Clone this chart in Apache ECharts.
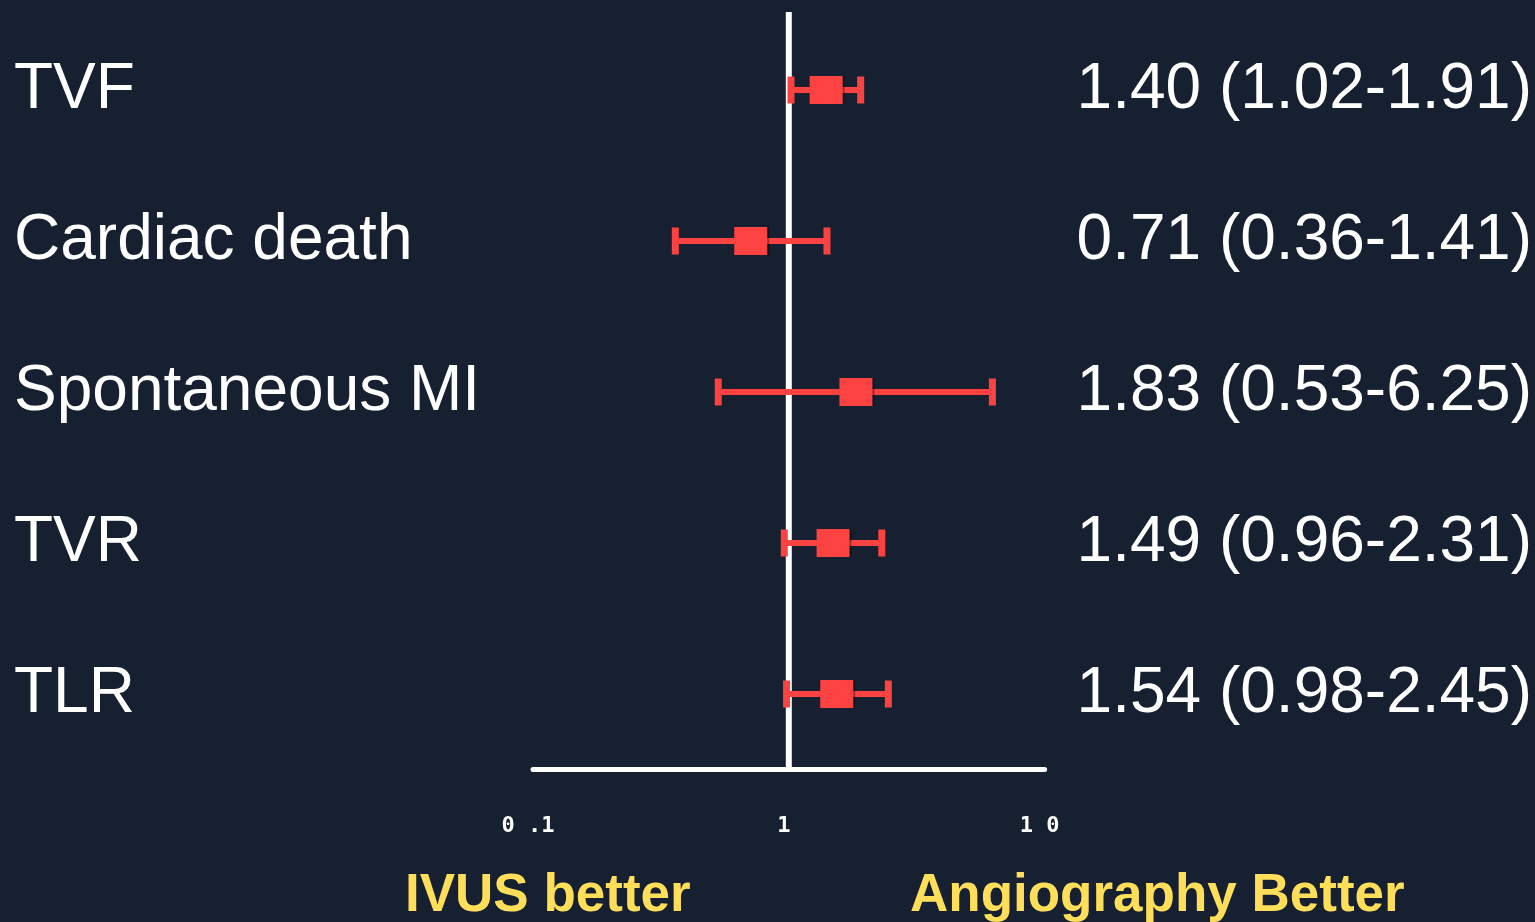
<!DOCTYPE html>
<html>
<head>
<meta charset="utf-8">
<script src="https://cdn.jsdelivr.net/npm/echarts@6/dist/echarts.min.js"></script>
<style>
  html, body { margin: 0; padding: 0; background: #162030; }
  #chart { width: 1535px; height: 922px; }
</style>
</head>
<body>
<div id="chart"></div>
<script>
// Outcomes and hazard ratios (95% CI)
const outcomes = ['TVF', 'Cardiac death', 'Spontaneous MI', 'TVR', 'TLR'];
const estimate = [1.40, 0.71, 1.83, 1.49, 1.54];
const ciLow    = [1.02, 0.36, 0.53, 0.96, 0.98];
const ciHigh   = [1.91, 1.41, 6.25, 2.31, 2.45];

// Log-axis ticks and their printed labels
const tickValues = [0.1, 1, 10];
const tickLabels = ['0 .1', '1', '1 0'];

// Reference line of no effect
const nullValue = 1;

const RED = '#fd4242';
const WHITE = '#ffffff';
const YELLOW = '#ffdf5a';
const FONT = '"Liberation Sans", Arial, Helvetica, sans-serif';

const fmt = v => v.toFixed(2);
const ciText = outcomes.map((_, i) =>
  fmt(estimate[i]) + ' (' + fmt(ciLow[i]) + '-' + fmt(ciHigh[i]) + ')');

const rows = outcomes.map((name, i) => [estimate[i], ciLow[i], ciHigh[i], i]);

const chart = echarts.init(document.getElementById('chart'), null, { renderer: 'canvas' });

const yAxisBase = {
  type: 'category',
  data: outcomes,
  inverse: true,
  axisLine: { show: false },
  axisTick: { show: false },
  splitLine: { show: false }
};

chart.setOption({
  backgroundColor: '#162030',
  animation: false,
  grid: { left: 533, right: 489, top: 14.5, height: 755 },
  xAxis: {
    type: 'log',
    logBase: 10,
    min: 0.1,
    max: 10,
    axisLine: { show: true, onZero: false, lineStyle: { color: WHITE, width: 5 } },
    axisTick: { show: false },
    splitLine: { show: false },
    axisLabel: {
      margin: 46,
      color: WHITE,
      fontFamily: '"DejaVu Sans Mono", monospace',
      fontWeight: 'bold',
      fontSize: 22,
      padding: [0, 10, 0, 0],
      formatter: v => {
        const k = tickValues.findIndex(t => Math.abs(t - v) < 1e-9);
        return k >= 0 ? tickLabels[k] : '';
      }
    }
  },
  yAxis: [
    Object.assign({}, yAxisBase, {
      position: 'left',
      axisLabel: {
        align: 'left',
        margin: 519,
        color: WHITE,
        fontFamily: FONT,
        fontSize: 64,
        padding: [10, 0, 0, 0]
      }
    }),
    Object.assign({}, yAxisBase, {
      position: 'right',
      axisLabel: {
        align: 'left',
        margin: 32,
        color: WHITE,
        fontFamily: FONT,
        fontSize: 64,
        padding: [10, 0, 0, 0],
        formatter: (v, i) => ciText[i]
      }
    })
  ],
  series: [
    {
      // vertical line at HR = 1
      type: 'custom',
      xAxisIndex: 0,
      yAxisIndex: 0,
      data: [[nullValue, 0]],
      z: 1,
      renderItem: (params, api) => {
        const x = api.coord([api.value(0), 0])[0];
        const cs = params.coordSys;
        return {
          type: 'rect',
          shape: { x: x - 3, y: 12, width: 6, height: cs.y + cs.height - 12 },
          style: { fill: WHITE }
        };
      }
    },
    {
      // estimates with 95% confidence intervals
      type: 'custom',
      xAxisIndex: 0,
      yAxisIndex: 0,
      data: rows,
      z: 3,
      renderItem: (params, api) => {
        const yIdx = api.value(3);
        const pEst = api.coord([api.value(0), yIdx]);
        const pLo = api.coord([api.value(1), yIdx]);
        const pHi = api.coord([api.value(2), yIdx]);
        const y = pEst[1];
        const capW = 7, capH = 27, lineH = 6, boxW = 33, boxH = 28;
        return {
          type: 'group',
          children: [
            { type: 'rect', shape: { x: pLo[0], y: y - lineH / 2, width: pHi[0] - pLo[0], height: lineH },
              style: { fill: RED } },
            { type: 'rect', shape: { x: pLo[0] - capW / 2, y: y - capH / 2, width: capW, height: capH },
              style: { fill: RED } },
            { type: 'rect', shape: { x: pHi[0] - capW / 2, y: y - capH / 2, width: capW, height: capH },
              style: { fill: RED } },
            { type: 'rect', shape: { x: pEst[0] - boxW / 2, y: y - boxH / 2, width: boxW, height: boxH },
              style: { fill: RED, shadowColor: 'rgba(0,0,0,0.35)', shadowOffsetX: 2, shadowBlur: 0 } }
          ]
        };
      }
    }
  ],
  graphic: [
    {
      type: 'text', left: 405, top: 870,
      style: { text: 'IVUS better', fill: YELLOW, font: 'bold 53px ' + FONT }
    },
    {
      type: 'text', left: 910, top: 870,
      style: { text: 'Angiography Better', fill: YELLOW, font: 'bold 53px ' + FONT }
    }
  ]
});
</script>
</body>
</html>
